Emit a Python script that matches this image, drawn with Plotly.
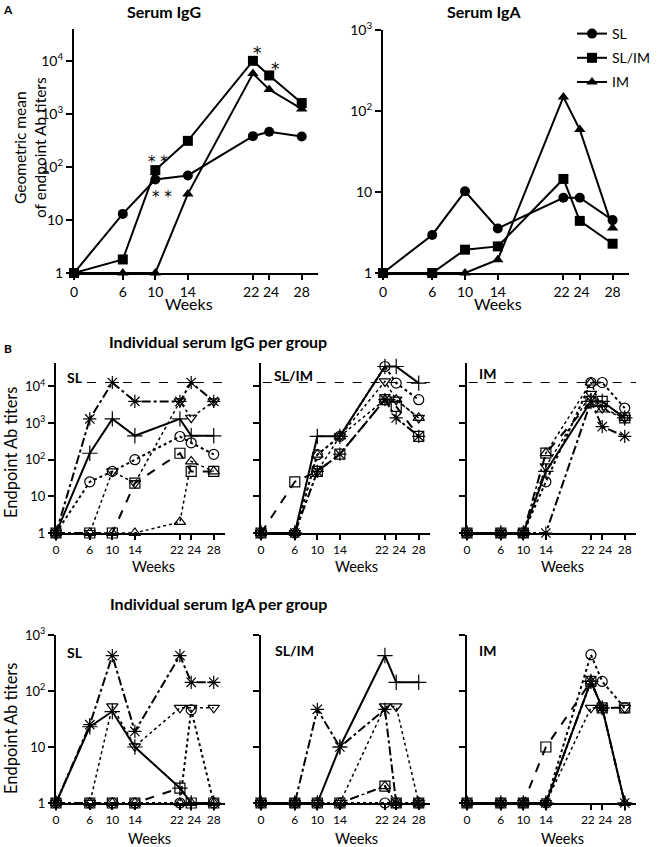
import plotly.graph_objects as go

W, H = 661, 847
FONT = "Lato"

weeks = [0, 6, 10, 14, 22, 24, 28]
week_labels = ["0", "6", "10", "14", "22", "24", "28"]
group_names = ["SL", "SL/IM", "IM"]

# ---- Panel A: geometric means ----
gm_igg_sl = [1, 13, 58, 69, 380, 460, 375]
gm_igg_slim = [1, 1.8, 87, 310, 10000, 5300, 1600]
gm_igg_im = [1, 1, 1, 31, 5750, 2880, 1240]
gm_iga_sl = [1, 2.95, 10.2, 3.55, 8.5, 8.5, 4.5]
gm_iga_slim = [1, 1, 1.94, 2.13, 14.5, 4.4, 2.3]
gm_iga_im = [1, 1, 1, 1.46, 149, 59, 3.6]

cutoff_igg = 12800

# ---- Panel B: individual IgG ----
sl_igg_plus = [1, 150, 1300, 450, 1300, 450, 450]
sl_igg_ast = [1, 1300, 12800, 3900, 3900, 12800, 3900]
sl_igg_circ = [1, 25, 48, 100, 430, 290, 140]
sl_igg_sq = [1, 1, 1, 23, 150, 48, 48]
sl_igg_tdn = [1, 1, 48, 23, 3900, 1400, 3900]
sl_igg_tup = [1, 1, 1, 1, 2, 90, 48]

slim_igg_plus = [1, 1, 435, 435, 35000, 35000, 12300]
slim_igg_ast = [1, 1, 48, 142, 4350, 1380, 435]
slim_igg_circ = [1, 1, 137, 435, 35000, 12300, 4350]
slim_igg_sq = [1, 25, 48, 142, 4350, 2850, 435]
slim_igg_tdn = [1, 1, 48, 435, 13700, 4350, 1380]
slim_igg_tup = [1, 1, 137, 435, 4350, 4350, 1380]

im_igg_plus = [1, 1, 1, 48, 3900, 3900, 1380]
im_igg_ast = [1, 1, 1, 1, 3900, 800, 435]
im_igg_circ = [1, 1, 1, 25, 12800, 12800, 2570]
im_igg_sq = [1, 1, 1, 152, 3900, 3900, 1380]
im_igg_tdn = [1, 1, 1, 66, 6300, 2570, 1380]
im_igg_tup = [1, 1, 1, 152, 12800, 2350, 1380]

# ---- Panel B: individual IgA ----
sl_iga_plus = [1, 23, 43, 10, 1.85, 1, 1]
sl_iga_ast = [1, 25, 430, 19, 430, 143, 143]
sl_iga_circ = [1, 1, 1, 1, 1, 46, 1]
sl_iga_sq = [1, 1, 1, 1, 1.85, 1, 1]
sl_iga_tdn = [1, 1, 53, 10.3, 50, 50, 50]
sl_iga_tup = [1, 1, 1, 1, 1, 1, 1]

slim_iga_plus = [1, 1, 1, 10, 430, 143, 143]
slim_iga_ast = [1, 1, 47, 10, 47, 1, 1]
slim_iga_circ = [1, 1, 1, 1, 1, 1, 1]
slim_iga_sq = [1, 1, 1, 1, 2, 1, 1]
slim_iga_tdn = [1, 1, 1, 1, 53, 53, 1]
slim_iga_tup = [1, 1, 1, 1, 2, 1, 1]

im_iga_plus = [1, 1, 1, 1, 148, 50, 1]
im_iga_ast = [1, 1, 1, 1, 148, 50, 1]
im_iga_circ = [1, 1, 1, 1, 445, 148, 50]
im_iga_sq = [1, 1, 1, 10, 148, 50, 50]
im_iga_tdn = [1, 1, 1, 1, 50, 50, 50]
im_iga_tup = [1, 1, 1, 1, 148, 50, 1]

# ---------------- layout helpers ----------------
def px(p):
    return p / W


def py(p):
    return 1 - p / H


def minor_vals(top_dec):
    vals = []
    for k in range(0, 6):
        for m in range(2, 10):
            v = m * 10 ** k
            if v < 10 ** top_dec:
                vals.append(v)
    return vals


def sup_label(v):
    import math
    e = int(round(math.log10(v)))
    if e == 0:
        return "1"
    if e == 1:
        return "10"
    return "10<sup>%d</sup>" % e


NB = "\u00a0"
fig = go.Figure()

XMAX = 30
# axis geometry (pixels)
axes_geom = {
    1: dict(x=(74, 318), y=(29, 273), top=4.6, labels=True, tf=14, yf=14, pad=1),
    2: dict(x=(383, 629), y=(30, 273), top=3.0, labels=True, tf=14, yf=14, pad=1),
    3: dict(x=(56, 225), y=(363, 533), top=4.64, labels=True, tf=12, yf=13, pad=2),
    4: dict(x=(261, 430), y=(363, 533), top=4.64, labels=False, tf=12, yf=13, pad=2),
    5: dict(x=(467, 636), y=(363, 533), top=4.64, labels=False, tf=12, yf=13, pad=2),
    6: dict(x=(56, 225), y=(635, 803), top=3.0, labels=True, tf=12, yf=13, pad=2),
    7: dict(x=(261, 430), y=(635, 803), top=3.0, labels=False, tf=12, yf=13, pad=2),
    8: dict(x=(467, 636), y=(635, 803), top=3.0, labels=False, tf=12, yf=13, pad=2),
}

layout_axes = {}
for i, g in axes_geom.items():
    sfx = "" if i == 1 else str(i)
    major = [10 ** k for k in range(0, int(g["top"]) + 1)]
    pad = NB * g["pad"]
    labels = list(week_labels)
    labels[4] = labels[4] + pad
    labels[5] = pad + labels[5]
    layout_axes["xaxis" + sfx] = dict(
        domain=[px(g["x"][0]), px(g["x"][1])],
        anchor="y" + sfx,
        range=[0, XMAX],
        tickmode="array",
        tickvals=weeks,
        ticktext=labels,
        tickangle=0,
        ticks="outside",
        ticklen=5,
        tickwidth=1.5,
        tickcolor="black",
        showline=True,
        linewidth=2,
        linecolor="black",
        showgrid=False,
        zeroline=False,
        automargin=False,
        tickfont=dict(size=g["tf"], color="black", family=FONT),
    )
    layout_axes["yaxis" + sfx] = dict(
        domain=[py(g["y"][1]), py(g["y"][0])],
        anchor="x" + sfx,
        type="log",
        range=[0, g["top"]],
        tickmode="array",
        tickvals=major,
        ticktext=[sup_label(v) for v in major],
        showticklabels=g["labels"],
        ticks="outside",
        ticklen=6,
        tickwidth=1.5,
        tickcolor="black",
        showline=True,
        linewidth=2,
        linecolor="black",
        showgrid=False,
        zeroline=False,
        automargin=False,
        tickfont=dict(size=g["yf"], color="black", family=FONT),
    )

# ---------------- Panel A traces ----------------
a_series = [
    ("SL", "circle", gm_igg_sl, gm_iga_sl),
    ("SL/IM", "square", gm_igg_slim, gm_iga_slim),
    ("IM", "triangle-up", gm_igg_im, gm_iga_im),
]
for name, sym, igg, iga in a_series:
    fig.add_trace(go.Scatter(
        x=weeks, y=igg, xaxis="x", yaxis="y", mode="lines+markers", name=name,
        line=dict(color="black", width=2), marker=dict(symbol=sym, size=10, color="black"),
        showlegend=False, cliponaxis=False))
for name, sym, igg, iga in a_series:
    fig.add_trace(go.Scatter(
        x=weeks, y=iga, xaxis="x2", yaxis="y2", mode="lines+markers", name=name,
        legendgroup=name,
        line=dict(color="black", width=2), marker=dict(symbol=sym, size=10, color="black"),
        showlegend=True, cliponaxis=False))

# minor log ticks (2..9 per decade) drawn just left of every y axis
for i, g in axes_geom.items():
    sfx = "" if i == 1 else str(i)
    ppw = (g["x"][1] - g["x"][0]) / XMAX
    mv = minor_vals(g["top"])
    fig.add_trace(go.Scatter(
        x=[-2.6 / ppw] * len(mv), y=mv, xaxis="x" + sfx, yaxis="y" + sfx, mode="markers",
        marker=dict(symbol="line-ew", size=4, color="black", line=dict(color="black", width=1)),
        showlegend=False, hoverinfo="skip", cliponaxis=False))

# ---------------- Panel B traces ----------------
styles = {
    "plus": ("cross-thin-open", "solid", 2, 11),
    "ast": ("asterisk-open", "dashdot", 2, 11),
    "circ": ("circle-open", "dot", 2, 10),
    "sq": ("square-open", "dash", 2, 10),
    "tdn": ("triangle-down-open", "dot", 1.5, 10),
    "tup": ("triangle-up-open", "dot", 1.5, 10),
}

b_panels = [
    (3, dict(plus=sl_igg_plus, ast=sl_igg_ast, circ=sl_igg_circ, sq=sl_igg_sq, tdn=sl_igg_tdn, tup=sl_igg_tup)),
    (4, dict(plus=slim_igg_plus, ast=slim_igg_ast, circ=slim_igg_circ, sq=slim_igg_sq, tdn=slim_igg_tdn, tup=slim_igg_tup)),
    (5, dict(plus=im_igg_plus, ast=im_igg_ast, circ=im_igg_circ, sq=im_igg_sq, tdn=im_igg_tdn, tup=im_igg_tup)),
    (6, dict(plus=sl_iga_plus, ast=sl_iga_ast, circ=sl_iga_circ, sq=sl_iga_sq, tdn=sl_iga_tdn, tup=sl_iga_tup)),
    (7, dict(plus=slim_iga_plus, ast=slim_iga_ast, circ=slim_iga_circ, sq=slim_iga_sq, tdn=slim_iga_tdn, tup=slim_iga_tup)),
    (8, dict(plus=im_iga_plus, ast=im_iga_ast, circ=im_iga_circ, sq=im_iga_sq, tdn=im_iga_tdn, tup=im_iga_tup)),
]

for idx, series in b_panels:
    xa, ya = "x%d" % idx, "y%d" % idx
    if idx in (3, 4, 5):
        x0 = 5.5 if idx == 3 else 0.3
        fig.add_trace(go.Scatter(
            x=[x0, XMAX], y=[cutoff_igg, cutoff_igg], xaxis=xa, yaxis=ya, mode="lines",
            line=dict(color="black", width=1, dash="dash"), showlegend=False, hoverinfo="skip"))
    for key in ["tup", "tdn", "sq", "circ", "ast", "plus"]:
        sym, dash, lw, ms = styles[key]
        fig.add_trace(go.Scatter(
            x=weeks, y=series[key], xaxis=xa, yaxis=ya, mode="lines+markers",
            line=dict(color="black", width=lw, dash=dash),
            marker=dict(symbol=sym, size=ms, color="black", line=dict(color="black", width=1.2)),
            showlegend=False, cliponaxis=False))

# ---------------- annotations ----------------
ann = []


def text_px(t, x, y, size, bold=False, angle=0, xanchor="center", bg=None, family=FONT):
    d = dict(text=("<b>%s</b>" % t) if bold else t, x=px(x), y=py(y), xref="paper", yref="paper",
             showarrow=False, xanchor=xanchor, yanchor="middle", textangle=angle,
             font=dict(size=size, color="black", family=family))
    if bg:
        d["bgcolor"] = bg
    ann.append(d)


text_px("A", 8, 9, 12, bold=True)
text_px("Serum IgG", 164, 11, 16, bold=True)
text_px("Serum IgA", 484, 11, 16, bold=True)
text_px("Geometric mean<br>of endpoint Ab titers", 30, 148, 15.5, angle=-90)
text_px("*", 257, 53, 17, family="DejaVu Sans")
text_px("*", 275, 69, 17, family="DejaVu Sans")
text_px("* *", 158, 162, 15, family="DejaVu Sans")
text_px("* *", 162, 197, 15, family="DejaVu Sans")
text_px("Weeks", 189, 303, 16)
text_px("Weeks", 498, 303, 16)

text_px("B", 8, 348, 12, bold=True)
text_px("Individual serum IgG per group", 218, 341, 16, bold=True)
text_px("Individual serum IgA per group", 218, 603, 16, bold=True)
text_px("Endpoint Ab titers", 11, 453, 16.5, angle=-90)
text_px("Endpoint Ab titers", 11, 729, 16.5, angle=-90)

text_px("SL", 65, 377, 14, bold=True, xanchor="left", bg="white")
text_px("SL/IM", 272, 375, 14, bold=True, xanchor="left")
text_px("IM", 477, 373, 14, bold=True, xanchor="left")
text_px("SL", 65, 652, 14, bold=True, xanchor="left")
text_px("SL/IM", 273, 650, 14, bold=True, xanchor="left")
text_px("IM", 477, 650, 14, bold=True, xanchor="left")

for cx, cy in [(153, 566), (356, 566), (562, 566), (149, 838), (357, 838), (562, 838)]:
    text_px("Weeks", cx, cy, 14.5)

fig.update_layout(
    template="none",
    width=W, height=H,
    margin=dict(l=0, r=0, t=0, b=0, pad=0),
    paper_bgcolor="white", plot_bgcolor="white",
    font=dict(family=FONT, color="black"),
    annotations=ann,
    showlegend=True,
    legend=dict(x=px(572), y=py(18), xanchor="left", yanchor="top",
                font=dict(size=14, color="black", family=FONT),
                traceorder="grouped",
                bgcolor="rgba(0,0,0,0)", borderwidth=0, tracegroupgap=3, itemwidth=30),
    **layout_axes,
)

fig.write_html("out.html", config={"displayModeBar": False},
               post_script="document.body.style.margin='0';")
